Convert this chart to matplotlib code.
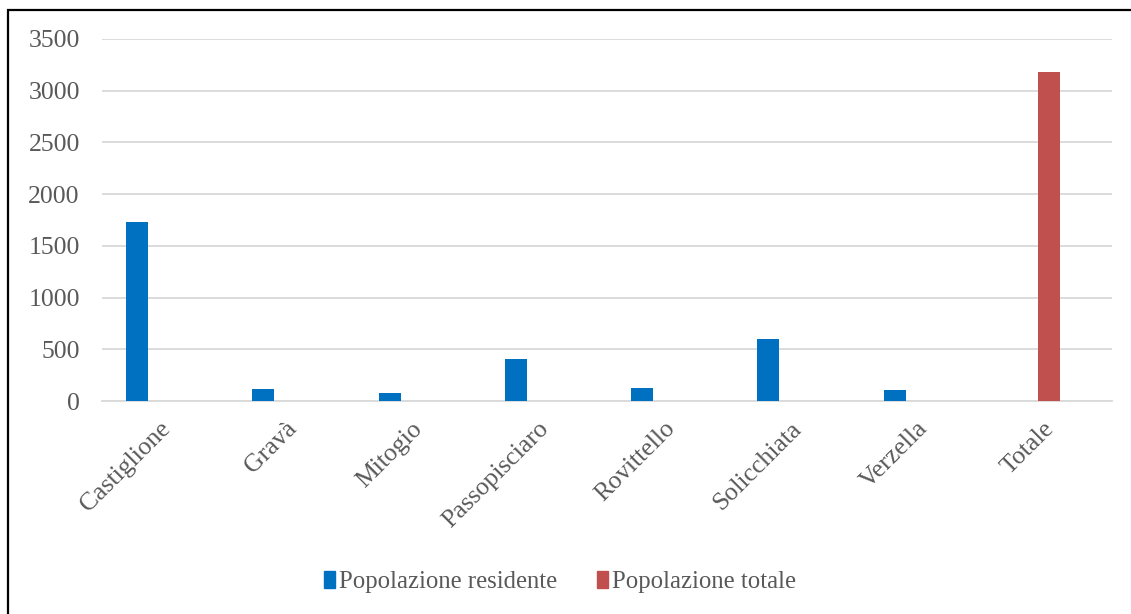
import numpy as np
import matplotlib.pyplot as plt
import matplotlib.transforms as mtransforms
from matplotlib.patches import Rectangle, Patch

# Data
categories = ["Castiglione", "Gravà", "Mitogio", "Passopisciaro",
              "Rovittello", "Solicchiata", "Verzella", "Totale"]
residente = [1733, 116, 80, 406, 123, 597, 106, 0]
totale = [0, 0, 0, 0, 0, 0, 0, 3181]

plt.rcParams['font.family'] = ['Liberation Serif', 'DejaVu Serif']

fig = plt.figure(figsize=(11.31, 6.14), dpi=100)
ax = fig.add_axes([0.0902, 0.3469, 0.8930, 0.5896])

x = np.arange(len(categories))
w = 0.174
ax.bar(x - 0.222, residente, w, color="#0070c0", label="Popolazione residente", zorder=3)
ax.bar(x, totale, w, color="#c0504d", label="Popolazione totale", zorder=3)

ax.set_xlim(-0.5, len(categories) - 0.5)
ax.set_ylim(0, 3500)
ax.set_yticks(np.arange(0, 3501, 500))
ax.yaxis.grid(True, color="#d9d9d9", linewidth=1.3, zorder=0)
for s in ["top", "right", "left"]:
    ax.spines[s].set_visible(False)
ax.spines["bottom"].set_color("#d9d9d9")
ax.spines["bottom"].set_linewidth(1.3)
ax.tick_params(axis="both", length=0, labelsize=18.5, colors="#595959")
ax.tick_params(axis="y", pad=16)
ax.set_xticks(x)
ax.set_xticklabels(categories, rotation=45, ha="right", rotation_mode="anchor")
ax.tick_params(axis="x", pad=12)

# nudge category labels a little to the left
shift = mtransforms.ScaledTranslation(-6 / 100, 0, fig.dpi_scale_trans)
for lab in ax.get_xticklabels():
    lab.set_transform(lab.get_transform() + shift)

handles = [Patch(color="#0070c0"), Patch(color="#c0504d")]
fig.legend(handles, ["Popolazione residente", "Popolazione totale"],
           loc="center", bbox_to_anchor=(0.495, 0.052), ncol=2, frameon=False,
           fontsize=17.8, handlelength=0.45, handleheight=0.7, handletextpad=0.15,
           columnspacing=1.6, labelcolor="#595959")

# outer frame
fig.patches.append(Rectangle((8 / 1131, -0.1), 1.2, 1 - 10 / 614 + 0.1,
                             transform=fig.transFigure, fill=False,
                             edgecolor="black", linewidth=1.6))

fig.savefig("out.png", dpi=100)
